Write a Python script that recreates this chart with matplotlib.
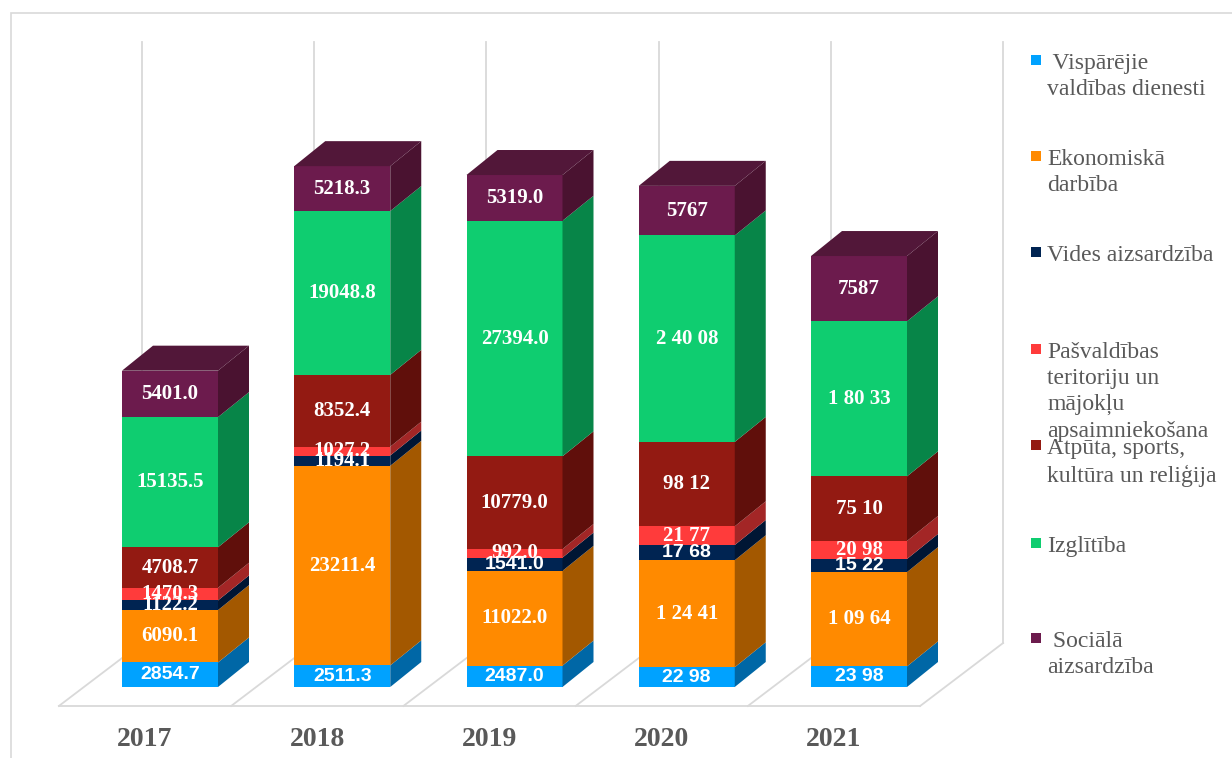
import matplotlib.pyplot as plt
from matplotlib.patches import Polygon, Rectangle

# Dati
years = ["2017", "2018", "2019", "2020", "2021"]
vispar = [2854.7, 2511.3, 2487.0, 2298, 2398]
ekon = [6090.1, 23211.4, 11022.0, 12441, 10964]
vides = [1122.2, 1194.1, 1541.0, 1768, 1522]
pasv = [1470.3, 1027.2, 992.0, 2177, 2098]
atputa = [4708.7, 8352.4, 10779.0, 9812, 7510]
izgl = [15135.5, 19048.8, 27394.0, 24008, 18033]
soc = [5401.0, 5218.3, 5319.0, 5767, 7587]

vispar_lbl = ["2854.7", "2511.3", "2487.0", "22 98", "23 98"]
ekon_lbl = ["6090.1", "23211.4", "11022.0", "1 24 41", "1 09 64"]
vides_lbl = ["1122.2", "1194.1", "1541.0", "17 68", "15 22"]
pasv_lbl = ["1470.3", "1027.2", "992.0", "21 77", "20 98"]
atputa_lbl = ["4708.7", "8352.4", "10779.0", "98 12", "75 10"]
izgl_lbl = ["15135.5", "19048.8", "27394.0", "2 40 08", "1 80 33"]
soc_lbl = ["5401.0", "5218.3", "5319.0", "5767", "7587"]

names = [" Vispārējie\nvaldības dienesti",
         "Ekonomiskā\ndarbība",
         "Vides aizsardzība",
         "Pašvaldības\nteritoriju un\nmājokļu\napsaimniekošana",
         "Atpūta, sports,\nkultūra un reliģija",
         "Izglītība",
         " Sociālā\naizsardzība"]

series = [vispar, ekon, vides, pasv, atputa, izgl, soc]
labels = [vispar_lbl, ekon_lbl, vides_lbl, pasv_lbl, atputa_lbl, izgl_lbl, soc_lbl]
front = ["#00A2FF", "#FF8A00", "#002452", "#FF3B3B", "#931A12", "#0FCD70", "#6C1B4D"]
side = ["#0067A6", "#A35800", "#001634", "#A32626", "#600F0B", "#078548", "#4A1230"]
top_col = "#521739"
sans_lbl = [[True] * 5, [False] * 5, [False, False, True, True, True],
            [False] * 5, [False] * 5, [False] * 5, [False] * 5]

W, H = 1232, 758
fig = plt.figure(figsize=(W / 100, H / 100), dpi=100)
ax = fig.add_axes([0, 0, 1, 1])
ax.axis("off")

SX = 172.25   # px uz kategoriju
SY = 0.0086   # px uz vienību
X0, Y0 = 170, 687
ax.set_xlim(-X0 / SX, (W - X0) / SX)
ax.set_ylim((Y0 - H) / SY, Y0 / SY)


def off(dx, dy):
    return dx / SX, -dy / SY


BW = 96 / SX
ddx, ddy = off(31, -25)
fx, fy = off(-25, 19)
bx, by = off(58, -44)
grid_top = (Y0 - 42) / SY
gc = "#d9d9d9"

# grīda un režģis
for k in range(6):
    xb = k - 0.5
    ax.plot([xb + fx, xb + bx], [fy, by], color=gc, lw=1.3, zorder=1)
    ax.plot([xb + bx, xb + bx], [by, grid_top], color=gc, lw=1.3, zorder=1)
ax.plot([-0.5 + fx, 4.5 + fx], [fy, fy], color=gc, lw=1.3, zorder=1)

# stabiņi
x = list(range(len(years)))
bottoms = [0.0] * len(years)
for s, vals in enumerate(series):
    ax.bar(x, vals, width=BW, bottom=bottoms, color=front[s], zorder=3)
    for i in x:
        b, v = bottoms[i], vals[i]
        xr = i + BW / 2
        ax.add_patch(Polygon([(xr, b), (xr + ddx, b + ddy), (xr + ddx, b + v + ddy), (xr, b + v)],
                             closed=True, fc=side[s], ec="none", zorder=3))
        fam = "Liberation Sans" if sans_lbl[s][i] else "Liberation Serif"
        fs = 14 if sans_lbl[s][i] else 15
        ax.text(i, b + v / 2, labels[s][i], ha="center", va="center", color="white",
                fontsize=fs, fontweight="bold", family=fam, zorder=5)
    bottoms = [bottoms[i] + vals[i] for i in x]

for i in x:
    t = bottoms[i]
    xl, xr = i - BW / 2, i + BW / 2
    ax.add_patch(Polygon([(xl, t), (xl + ddx, t + ddy), (xr + ddx, t + ddy), (xr, t)],
                         closed=True, fc=top_col, ec="none", zorder=3))
    ax.text(i - 25 / SX, (Y0 - 740) / SY, years[i], ha="center", va="center",
            fontsize=20, fontweight="bold", family="Liberation Serif", color="#595959")

# leģenda
leg_y = [62, 158, 254, 351, 447, 545, 640]
for s, name in enumerate(names):
    y = leg_y[s]
    fig.add_artist(Rectangle((1031 / W, 1 - (y + 3) / H), 10 / W, 10 / H,
                             transform=fig.transFigure, fc=front[s], ec="none"))
    fig.text(1047 / W, 1 - (y - 9) / H, name, ha="left", va="top", fontsize=17,
             family="Liberation Serif", color="#595959", linespacing=1.32)

# rāmis
fig.add_artist(Rectangle((10.5 / W, -0.05), 1.2, 1.05 - 12.5 / H, transform=fig.transFigure,
                         fill=False, ec=gc, lw=1.2))

plt.savefig("out.png", dpi=100)
